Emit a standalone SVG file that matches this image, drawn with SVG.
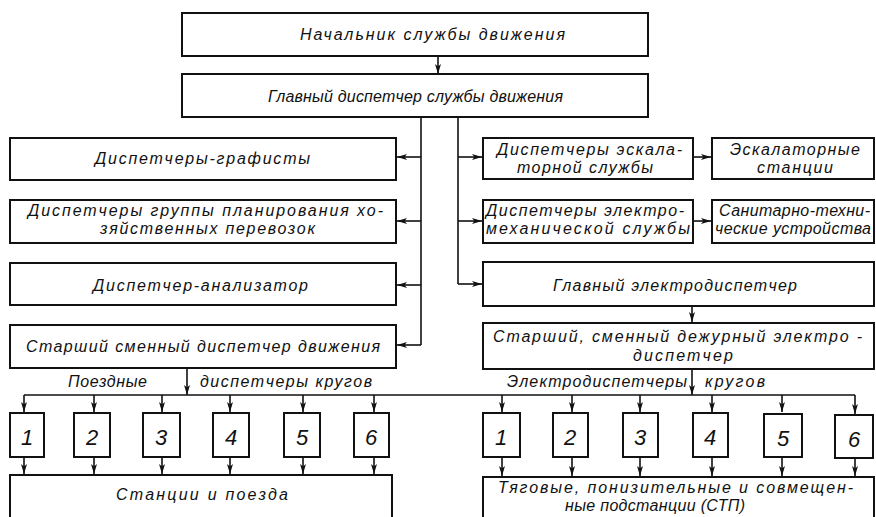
<svg xmlns="http://www.w3.org/2000/svg" width="876" height="517" viewBox="0 0 876 517">
<defs>
<marker id="ah" markerUnits="userSpaceOnUse" markerWidth="11" markerHeight="7" refX="10" refY="3.5" orient="auto">
<path d="M0,0.5 L10,3.5 L0,6.5 L2.5,3.5 Z" fill="#111"/>
</marker>
<style>
.b{fill:#fff;stroke:#111;stroke-width:2}
.c{fill:none;stroke:#111;stroke-width:1.6}
.a{fill:none;stroke:#111;stroke-width:1.6;marker-end:url(#ah)}
text{font-family:"Liberation Sans","DejaVu Sans",sans-serif;font-style:italic;font-size:16px;fill:#111}
.d{font-size:22px;text-anchor:middle}
</style>
</defs>
<rect width="876" height="517" fill="#fff"/>

<g id="connectors">
<path class="a" d="M438,56 L438,74"/>
<path class="c" d="M421,117 L421,345"/>
<path class="a" d="M421,157 L397,157"/>
<path class="a" d="M421,221 L397,221"/>
<path class="a" d="M421,285 L397,285"/>
<path class="a" d="M421,345 L397,345"/>
<path class="c" d="M458,117 L458,284"/>
<path class="a" d="M458,157 L482,157"/>
<path class="a" d="M458,221 L482,221"/>
<path class="a" d="M458,284 L482,284"/>
<path class="a" d="M693,157 L711,157"/>
<path class="a" d="M693,221 L711,221"/>
<path class="a" d="M692,306 L692,322"/>
<path class="a" d="M187,368 L187,395"/>
<path class="a" d="M692,369 L692,395"/>
<path class="c" d="M24,395 L855,395"/>
<path class="a" d="M24,395 L24,412"/>
<path class="a" d="M94,395 L94,412"/>
<path class="a" d="M162,395 L162,412"/>
<path class="a" d="M230,395 L230,412"/>
<path class="a" d="M303,395 L303,412"/>
<path class="a" d="M374,395 L374,412"/>
<path class="a" d="M502,395 L502,412"/>
<path class="a" d="M572,395 L572,412"/>
<path class="a" d="M640,395 L640,412"/>
<path class="a" d="M712,395 L712,412"/>
<path class="a" d="M782,395 L782,412"/>
<path class="a" d="M855,395 L855,414"/>
<path class="a" d="M24,457 L24,474"/>
<path class="a" d="M94,457 L94,474"/>
<path class="a" d="M162,457 L162,474"/>
<path class="a" d="M230,457 L230,474"/>
<path class="a" d="M303,457 L303,474"/>
<path class="a" d="M374,457 L374,474"/>
<path class="a" d="M502,457 L502,476"/>
<path class="a" d="M572,457 L572,476"/>
<path class="a" d="M640,457 L640,476"/>
<path class="a" d="M712,457 L712,476"/>
<path class="a" d="M782,457 L782,476"/>
<path class="a" d="M855,458 L855,476"/>
</g>

<g id="n-nachalnik"><rect class="b" x="182" y="13" width="466" height="43"/><text x="300" y="40" textLength="265" lengthAdjust="spacing">Начальник службы движения</text></g>
<g id="n-glavdisp"><rect class="b" x="182" y="74" width="466" height="43"/><text x="268" y="102" textLength="295" lengthAdjust="spacing">Главный диспетчер службы движения</text></g>

<g id="n-grafisty"><rect class="b" x="10" y="138" width="386" height="42"/><text x="95" y="164" textLength="215" lengthAdjust="spacing">Диспетчеры-графисты</text></g>
<g id="n-gruppy"><rect class="b" x="10" y="200" width="386" height="43"/><text x="28" y="216" textLength="355" lengthAdjust="spacing">Диспетчеры группы планирования хо-</text><text x="100" y="234" textLength="215" lengthAdjust="spacing">зяйственных перевозок</text></g>
<g id="n-analizator"><rect class="b" x="10" y="263" width="386" height="42"/><text x="93" y="291" textLength="215" lengthAdjust="spacing">Диспетчер-анализатор</text></g>
<g id="n-starshiy"><rect class="b" x="10" y="325" width="386" height="43"/><text x="26" y="352" textLength="354" lengthAdjust="spacing">Старший сменный диспетчер движения</text></g>

<g id="n-eskal"><rect class="b" x="483" y="138" width="210" height="41"/><text x="497" y="155" textLength="185" lengthAdjust="spacing">Диспетчеры эскала-</text><text x="517" y="173" textLength="136" lengthAdjust="spacing">торной службы</text></g>
<g id="n-eskalst"><rect class="b" x="712" y="138" width="162" height="41"/><text x="730" y="155" textLength="130" lengthAdjust="spacing">Эскалаторные</text><text x="757" y="173" textLength="76" lengthAdjust="spacing">станции</text></g>
<g id="n-elmeh"><rect class="b" x="483" y="200" width="210" height="43"/><text x="486" y="216" textLength="198" lengthAdjust="spacing">Диспетчеры электро-</text><text x="486" y="234" textLength="204" lengthAdjust="spacing">механической службы</text></g>
<g id="n-santeh"><rect class="b" x="712" y="200" width="162" height="43"/><text x="719" y="216" textLength="151" lengthAdjust="spacing">Санитарно-техни-</text><text x="715" y="234" textLength="156" lengthAdjust="spacing">ческие устройства</text></g>
<g id="n-glavel"><rect class="b" x="483" y="262" width="391" height="44"/><text x="553" y="291" textLength="244" lengthAdjust="spacing">Главный электродиспетчер</text></g>
<g id="n-starel"><rect class="b" x="483" y="323" width="391" height="46"/><text x="493" y="342" textLength="369" lengthAdjust="spacing">Старший, сменный дежурный электро -</text><text x="633" y="361" textLength="100" lengthAdjust="spacing">диспетчер</text></g>

<g id="labels">
<text x="68" y="387" textLength="79" lengthAdjust="spacing">Поездные</text>
<text x="200" y="387" textLength="172" lengthAdjust="spacing">диспетчеры кругов</text>
<text x="507" y="387" textLength="180" lengthAdjust="spacing">Электродиспетчеры</text>
<text x="705" y="387" textLength="60" lengthAdjust="spacing">кругов</text>
</g>

<g id="n-l1"><rect class="b" x="10" y="413" width="34" height="44"/><text class="d" x="27" y="445">1</text></g>
<g id="n-l2"><rect class="b" x="74" y="413" width="36" height="44"/><text class="d" x="92" y="445">2</text></g>
<g id="n-l3"><rect class="b" x="143" y="413" width="37" height="44"/><text class="d" x="161" y="445">3</text></g>
<g id="n-l4"><rect class="b" x="213" y="413" width="36" height="44"/><text class="d" x="231" y="445">4</text></g>
<g id="n-l5"><rect class="b" x="284" y="413" width="36" height="44"/><text class="d" x="302" y="445">5</text></g>
<g id="n-l6"><rect class="b" x="354" y="413" width="35" height="44"/><text class="d" x="371" y="445">6</text></g>

<g id="n-r1"><rect class="b" x="483" y="413" width="37" height="44"/><text class="d" x="501" y="445">1</text></g>
<g id="n-r2"><rect class="b" x="553" y="413" width="35" height="44"/><text class="d" x="570" y="445">2</text></g>
<g id="n-r3"><rect class="b" x="623" y="413" width="35" height="44"/><text class="d" x="640" y="445">3</text></g>
<g id="n-r4"><rect class="b" x="693" y="413" width="35" height="44"/><text class="d" x="710" y="445">4</text></g>
<g id="n-r5"><rect class="b" x="764" y="414" width="38" height="43"/><text class="d" x="783" y="446">5</text></g>
<g id="n-r6"><rect class="b" x="835" y="415" width="38" height="43"/><text class="d" x="854" y="447">6</text></g>

<g id="n-stancii"><rect class="b" x="10" y="475" width="382" height="60"/><text x="116" y="500" textLength="172" lengthAdjust="spacing">Станции и поезда</text></g>
<g id="n-podst"><rect class="b" x="483" y="477" width="391" height="60"/><text x="498" y="493" textLength="355" lengthAdjust="spacing">Тяговые, понизительные и совмещен-</text><text x="565" y="511" textLength="180" lengthAdjust="spacing">ные подстанции (СТП)</text></g>
</svg>
